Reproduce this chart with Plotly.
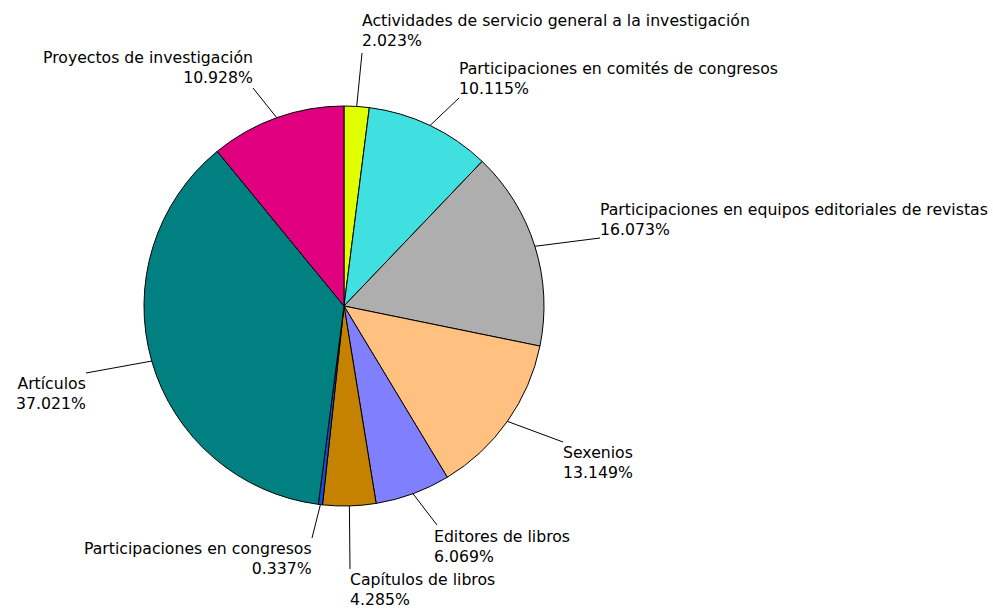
import math
import plotly.graph_objects as go

# ---- data ----
categories = [
    "Actividades de servicio general a la investigación",
    "Participaciones en comités de congresos",
    "Participaciones en equipos editoriales de revistas",
    "Sexenios",
    "Editores de libros",
    "Capítulos de libros",
    "Participaciones en congresos",
    "Artículos",
    "Proyectos de investigación",
]
percentages = [2.023, 10.115, 16.073, 13.149, 6.069, 4.285, 0.337, 37.021, 10.928]
colors = ["#E0FF00", "#40E0E0", "#AEAEAE", "#FFC080", "#8080FF",
          "#C58200", "#1050E0", "#008080", "#E0007F"]

# ---- layout (pixels) ----
W, H = 993, 611
CX, CY, R = 344, 306, 200
# label line end point and text anchoring
label_pos = [
    (362, 53, "left", "bottom", 360, 52),
    (459, 98, "left", "bottom", 457, 100),
    (600, 238, "left", "bottom", 598, 241),
    (563, 442, "left", "top", 561, 441),
    (437, 525, "left", "top", 432, 525),
    (350, 569, "left", "top", 348, 568),
    (312, 538, "right", "top", 314, 537),
    (86, 373, "right", "top", 88, 372),
    (253, 88, "right", "bottom", 255, 89),
]

def px(x):
    return x / W

def py(y):
    return 1 - y / H

fig = go.Figure(go.Pie(
    labels=categories,
    values=percentages,
    sort=False,
    direction="clockwise",
    rotation=0,
    marker=dict(colors=colors, line=dict(color="black", width=1)),
    textinfo="none",
    hoverinfo="label+percent",
    showlegend=False,
    domain=dict(x=[px(CX - R), px(CX + R)], y=[py(CY + R), py(CY - R)]),
))

total = sum(percentages)
cum = 0.0
shapes, annotations = [], []
for cat, val, (ex, ey, xa, ya, tx, ty) in zip(categories, percentages, label_pos):
    mid = (cum + val / 2) / total
    cum += val
    th = 2 * math.pi * mid
    sx = CX + R * math.sin(th)
    sy = CY - R * math.cos(th)
    shapes.append(dict(type="line", xref="paper", yref="paper",
                       x0=px(sx), y0=py(sy), x1=px(ex), y1=py(ey),
                       line=dict(color="black", width=1)))
    annotations.append(dict(
        x=px(tx), y=py(ty), xref="paper", yref="paper",
        xanchor=xa, yanchor=ya, align=xa, showarrow=False,
        text=f"{cat}<br>{val:.3f}%",
        font=dict(family="DejaVu Sans", size=15.7, color="black"),
    ))

fig.update_layout(
    width=W, height=H,
    margin=dict(l=0, r=0, t=0, b=0),
    paper_bgcolor="white", plot_bgcolor="white",
    shapes=shapes, annotations=annotations,
    font=dict(family="DejaVu Sans"),
)

fig.write_html(
    "out.html",
    config={"displayModeBar": False},
    post_script="document.body.style.margin='0';document.body.style.overflow='hidden';",
)
